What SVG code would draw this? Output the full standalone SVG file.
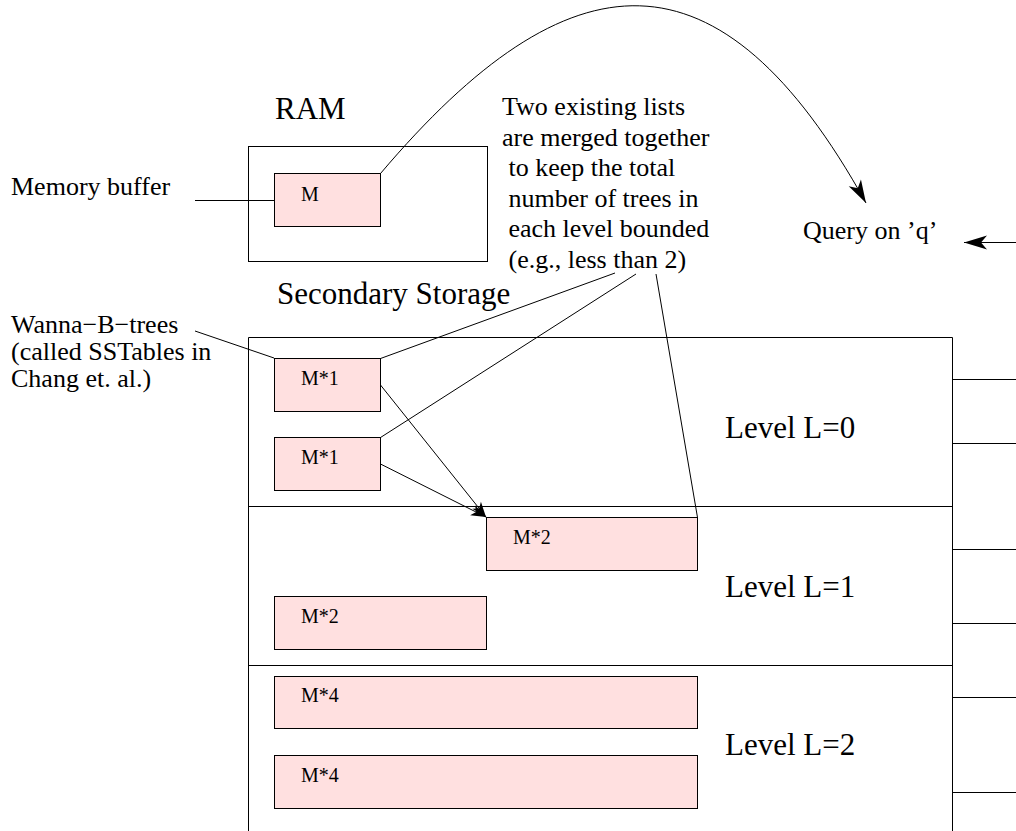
<svg xmlns="http://www.w3.org/2000/svg" width="1016" height="831" viewBox="0 0 1016 831">
<style>
text{font-family:"Liberation Serif","Times New Roman",serif;fill:#000}
.t26{font-size:26px}
.t31{font-size:31px}
.t20{font-size:20px}
.box{fill:#ffe0e0;stroke:#000;stroke-width:1}
.frame{fill:none;stroke:#000;stroke-width:1}
.ln{fill:none;stroke:#000;stroke-width:1}
</style>
<defs>
<marker id="bigArrow" markerUnits="userSpaceOnUse" viewBox="-25 -9 27 18" markerWidth="27" markerHeight="18" refX="0" refY="0" orient="auto">
<path d="M0,0 L-23,-7 L-17,0 L-23,7 Z" fill="#000"/>
</marker>
<marker id="smallArrow" markerUnits="userSpaceOnUse" viewBox="-17 -7 19 14" markerWidth="19" markerHeight="14" refX="0" refY="0" orient="auto">
<path d="M0,0 L-15,-5.5 L-11,0 L-15,5.5 Z" fill="#000"/>
</marker>
</defs>

<g id="ram">
<text class="t31" x="275" y="119">RAM</text>
<rect class="frame" x="248.5" y="146.5" width="239" height="115"/>
</g>
<g id="memtable">
<rect class="box" x="274.5" y="173.5" width="106" height="53"/>
<text class="t20" x="301" y="201">M</text>
</g>
<g id="label-memory-buffer">
<text class="t26" x="11" y="195">Memory buffer</text>
</g>
<g id="label-merge">
<text class="t26" x="502" y="115">Two existing lists</text>
<text class="t26" x="502" y="145.6">are merged together</text>
<text class="t26" x="508.5" y="176.2">to keep the total</text>
<text class="t26" x="508.5" y="206.8">number of trees in</text>
<text class="t26" x="508.5" y="237.4">each level bounded</text>
<text class="t26" x="508.5" y="268">(e.g., less than 2)</text>
</g>
<g id="query">
<text class="t26" x="803" y="239">Query on ’q’</text>
</g>
<g id="secondary-storage">
<text class="t31" x="277" y="304">Secondary Storage</text>
<path class="frame" d="M248.5,831 V337.5 H952.5 V831"/>
<path class="frame" d="M248.5,506.5 H952.5 M248.5,665.5 H952.5"/>
</g>
<g id="label-wanna">
<text class="t26" x="11" y="333">Wanna−B−trees</text>
<text class="t26" x="11" y="360">(called SSTables in</text>
<text class="t26" x="11" y="387">Chang et. al.)</text>
</g>
<g id="level0">
<text class="t31" x="725" y="438">Level L=0</text>
</g>
<g id="level1">
<text class="t31" x="725" y="597">Level L=1</text>
</g>
<g id="level2">
<text class="t31" x="725" y="755">Level L=2</text>
</g>
<g id="l0-a">
<rect class="box" x="274.5" y="358.5" width="106" height="53"/>
<text class="t20" x="301" y="385">M*1</text>
</g>
<g id="l0-b">
<rect class="box" x="274.5" y="437.5" width="106" height="53"/>
<text class="t20" x="301" y="464">M*1</text>
</g>
<g id="l1-merged">
<rect class="box" x="486.5" y="517.5" width="211" height="53"/>
<text class="t20" x="513" y="544">M*2</text>
</g>
<g id="l1-b">
<rect class="box" x="274.5" y="596.5" width="212" height="53"/>
<text class="t20" x="301" y="623">M*2</text>
</g>
<g id="l2-a">
<rect class="box" x="274.5" y="676.5" width="423" height="52"/>
<text class="t20" x="301" y="702">M*4</text>
</g>
<g id="l2-b">
<rect class="box" x="274.5" y="755.5" width="423" height="53"/>
<text class="t20" x="301" y="782">M*4</text>
</g>

<g id="connectors">
<path class="ln" d="M195,200.5 H274"/>
<path class="ln" d="M195,331 L274,358"/>
<path class="ln" d="M380.5,173.5 C570,-50 720,-60 866,203" marker-end="url(#bigArrow)"/>
<path class="ln" d="M1016,242.5 H964" marker-end="url(#bigArrow)"/>
<path class="ln" d="M615,273 L380.5,358.5"/>
<path class="ln" d="M636,274 L380.5,437.5"/>
<path class="ln" d="M656,274 L697.5,517.5"/>
<path class="ln" d="M380.5,385 L486,517" marker-end="url(#smallArrow)"/>
<path class="ln" d="M380.5,464 L486,517" marker-end="url(#smallArrow)"/>
<path class="ln" d="M952.5,379.5 H1016 M952.5,443.5 H1016 M952.5,549.5 H1016 M952.5,623.5 H1016 M952.5,697.5 H1016 M952.5,792.5 H1016"/>
</g>
</svg>
